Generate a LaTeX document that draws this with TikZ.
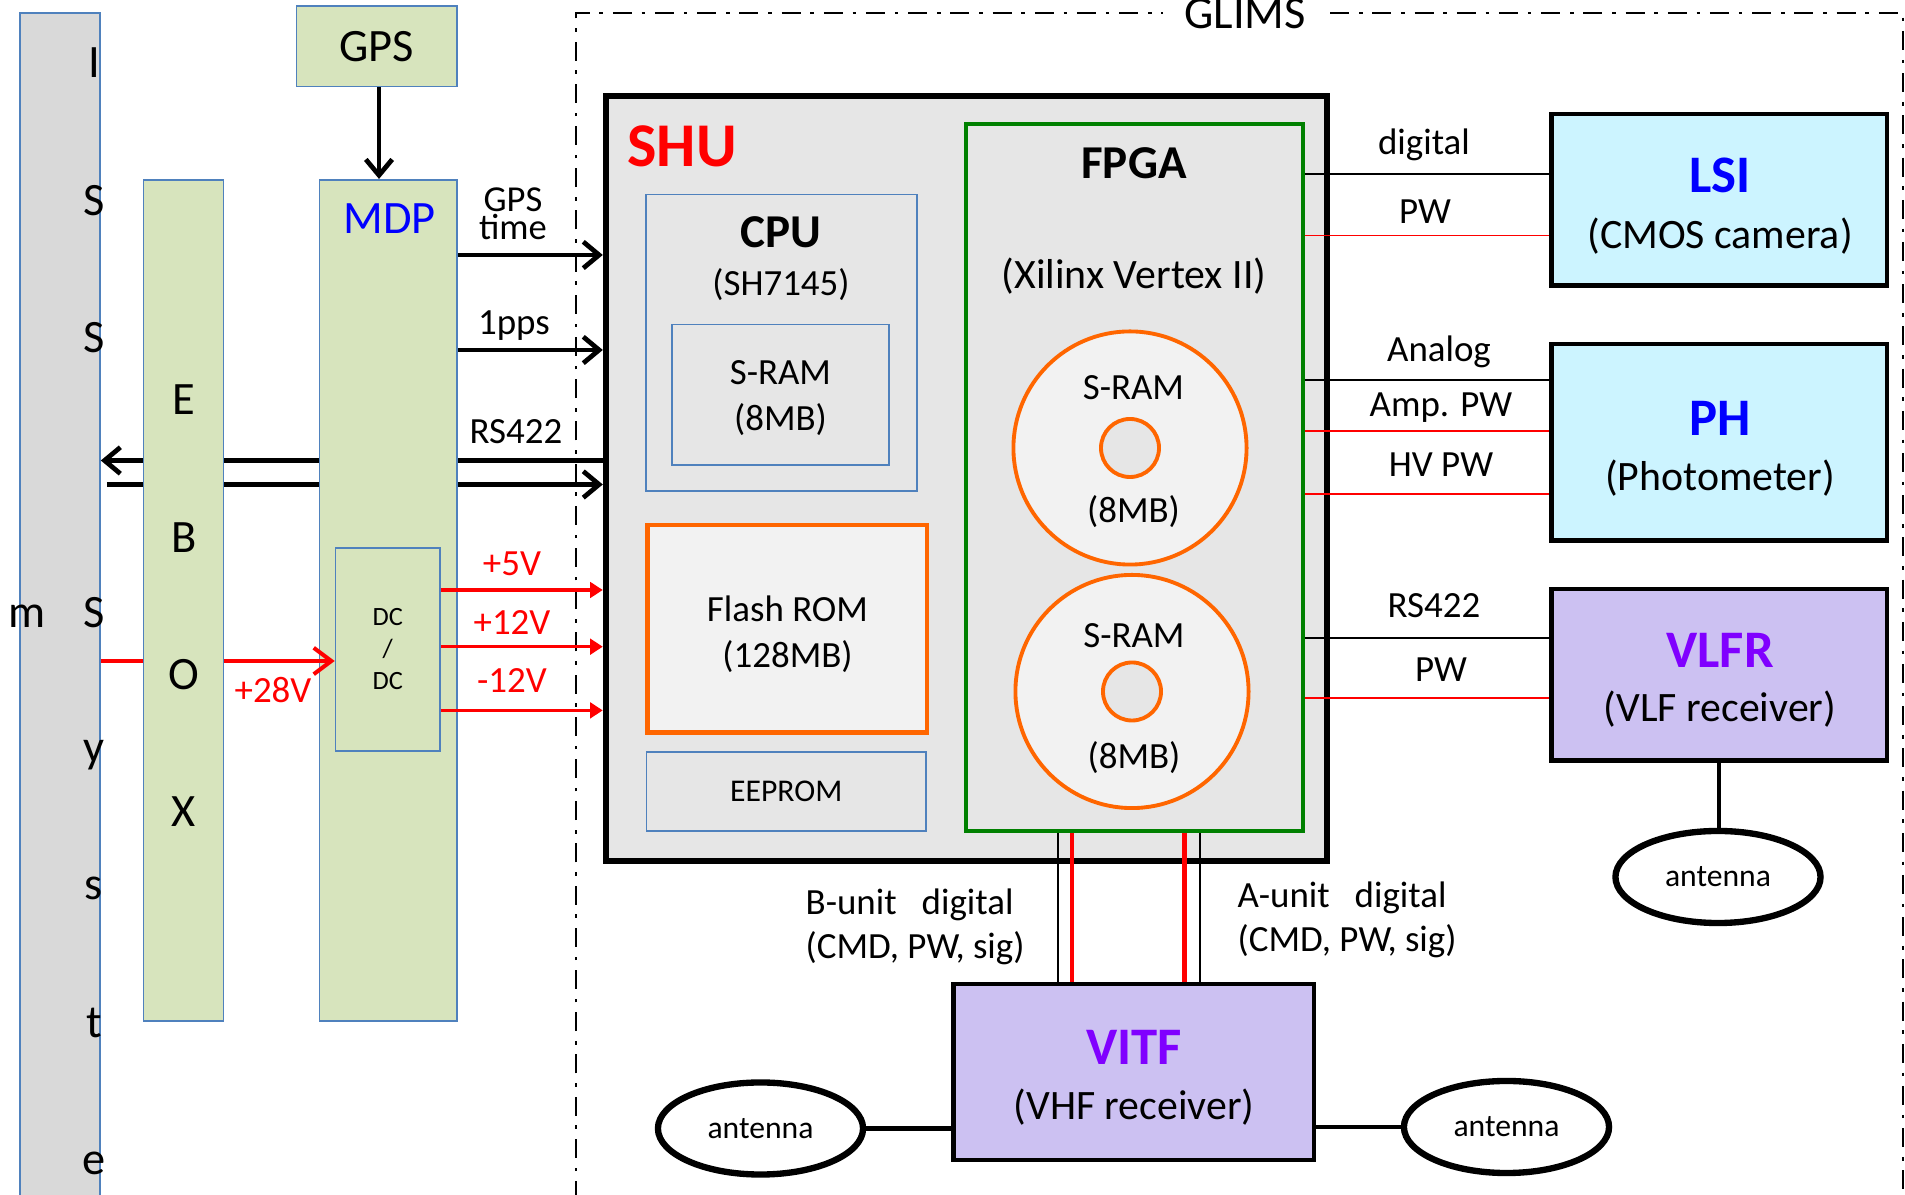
\documentclass[tikz,border=0pt]{standalone}
\usepackage{fontspec}
\setmainfont{Carlito}
\usetikzlibrary{arrows.meta,shapes.geometric}

\definecolor{boxblue}{RGB}{79,129,189}
\definecolor{issgray}{RGB}{217,217,217}
\definecolor{boxgreen}{RGB}{215,228,189}
\definecolor{shugray}{RGB}{230,230,230}
\definecolor{memfill}{RGB}{242,242,242}
\definecolor{memorange}{RGB}{255,102,0}
\definecolor{fpgagreen}{RGB}{0,128,0}
\definecolor{sensorcyan}{RGB}{204,244,255}
\definecolor{rxviolet}{RGB}{204,193,242}
\definecolor{titleblue}{RGB}{0,0,255}
\definecolor{titleviolet}{RGB}{128,0,255}

\newcommand{\fbig}{\fontsize{13.2pt}{15.8pt}\selectfont}
\newcommand{\fsub}{\fontsize{11.9pt}{14pt}\selectfont}
\newcommand{\fsig}{\fontsize{10.5pt}{12.5pt}\selectfont}
\newcommand{\fmem}{\fontsize{10.5pt}{13pt}\selectfont}
\newcommand{\ftight}{\fontsize{10.4pt}{8.1pt}\selectfont}
\newcommand{\fsmall}{\fontsize{9pt}{11pt}\selectfont}
\newcommand{\fdc}{\fontsize{7.5pt}{9.1pt}\selectfont}
\newcommand{\fhead}{\fontsize{13.4pt}{16pt}\selectfont\bfseries}
\newcommand{\ftitle}{\fontsize{15pt}{18pt}\selectfont\bfseries}
\newcommand{\fshu}{\fontsize{17.7pt}{21pt}\selectfont\bfseries}

\begin{document}
\begin{tikzpicture}[x=0.01cm, y=-0.01cm,
    blk/.style={draw=boxblue, line width=0.45pt, inner sep=0pt},
    grn/.style={blk, fill=boxgreen},
    periph/.style={draw=black, line width=1.2pt, inner sep=0pt},
    ant/.style={ellipse, draw=black, line width=1.8pt, fill=white, inner sep=0pt,
      minimum width=2.05cm, minimum height=0.92cm, font=\fsmall},
    disk/.style={circle, draw=memorange, line width=1.1pt, fill=memfill,
      minimum size=2.33cm, inner sep=0pt},
    hole/.style={circle, draw=memorange, line width=1.1pt, fill=shugray,
      minimum size=0.58cm, inner sep=0pt},
    bus/.style={line width=1.35pt, -{Straight Barb[length=4.5pt,width=7.5pt]}},
    pwr/.style={red, line width=0.9pt, -{Triangle[length=3.6pt,width=4.4pt]}},
    wire/.style={line width=0.55pt},
    pwire/.style={wire, red},
  ]
\useasboundingbox (0,0) rectangle (1905,1195);

% GLIMS frame
\draw[line width=0.5pt, dash pattern=on 5.4pt off 2.8pt on 1pt off 2.8pt]
  (576,1200) -- (576,13) -- (1903,13) -- (1903,1200);
\node[fill=white, font=\fbig, inner xsep=6pt, inner ysep=1pt] (glims) at (1245,14) {GLIMS};

% ISS side
\node[blk, fill=issgray, minimum width=0.8cm, minimum height=11.9cm, anchor=north] (iss) at (60,12) {};
\foreach \ch/\yb [count=\i] in {I/78,S/216,S/353,S/628,y/763,s/900,t/1038,e/1175}
  \node[font=\fbig, anchor=base] (iss\i) at (94,\yb) {\ch};
\node[font=\fbig, anchor=base] (issm) at (27,628) {m};

\node[grn, minimum width=1.605cm, minimum height=0.803cm, font=\fbig] (gps) at (376.75,46.2) {GPS};

% SHU
\node[draw, line width=1.7pt, fill=shugray, minimum width=7.21cm, minimum height=7.65cm, inner sep=0pt] (shu) at (966.5,478.5) {};
\node[font=\fshu, text=red] (shulabel) at (682,146) {SHU};

\node[blk, fill=shugray, minimum width=2.71cm, minimum height=2.965cm] (cpu) at (781.5,342.75) {};
\node[font=\fhead] (cputitle) at (781,232) {CPU};
\node[font=\fsig] (cpusub) at (781,285) {(SH7145)};
\node[blk, fill=shugray, minimum width=2.17cm, minimum height=1.405cm] (cpuram) at (780.5,394.75) {};
\node[font=\fmem, align=center] (cpuramtext) at (780.5,398) {S-RAM\\(8MB)};

\node[draw=memorange, line width=1.3pt, fill=memfill, minimum width=2.795cm, minimum height=2.075cm,
  inner sep=0pt] (flash) at (787.25,628.75) {};
\node[font=\fmem, align=center] (flashtext) at (787.5,634) {Flash ROM\\(128MB)};
\node[blk, fill=shugray, minimum width=2.795cm, minimum height=0.79cm, font=\fsmall] (eeprom) at (786.25,791.5) {EEPROM};

\node[draw=fpgagreen, line width=1.1pt, fill=shugray, minimum width=3.365cm, minimum height=7.07cm, inner sep=0pt] (fpga) at (1134.25,477.5) {};
\node[font=\fhead] (fpgatitle) at (1134,163) {FPGA};
\node[font=\fsub] (fpgasub) at (1134,276) {(Xilinx Vertex II)};

\node[disk] (disk1) at (1130,448) {};
\node[hole] (hole1) at (disk1) {};
\node[font=\fsig] (disk1top) at (1133.5,388) {S-RAM};
\node[font=\fsig] (disk1bot) at (1133.5,512) {(8MB)};
\node[disk] (disk2) at (1132,691.5) {};
\node[hole] (hole2) at (disk2) {};
\node[font=\fsig] (disk2top) at (1134,636) {S-RAM};
\node[font=\fsig] (disk2bot) at (1134,758) {(8MB)};

% RS422 pair runs under EBOX and MDP
\draw[bus] (shu.west |- 0,460.5) -- (iss.east |- 0,460.5);
\draw[bus, shorten <=1.7pt] (iss.east |- 0,484.5) -- (shu.west |- 0,484.5);

\node[grn, minimum width=1.375cm, minimum height=8.405cm] (mdp) at (388.25,600.25) {};
\node[font=\fbig, text=titleblue] (mdplabel) at (389.5,219) {MDP};
\node[grn, minimum width=1.045cm, minimum height=2.03cm, font=\fdc, align=center] (dc) at (387.75,649.5) {DC\\/\\DC};

% +28V runs under EBOX, over MDP
\draw[red, line width=1.15pt, -{Straight Barb[length=5pt,width=7.5pt]}] (iss.east |- 0,661) -- (dc.west |- 0,661);

\node[grn, minimum width=0.8cm, minimum height=8.405cm] (ebox) at (183.5,600.25) {};
\foreach \ch/\yb [count=\i] in {E/415,B/553,O/690,X/827}
  \node[font=\fbig, anchor=base] (ebox\i) at (184,\yb) {\ch};

\draw[bus] (gps.south -| 379,0) -- (mdp.north -| 379,0);
\draw[bus] (mdp.east |- 0,255) -- (shu.west |- 0,255);
\draw[bus] (mdp.east |- 0,350) -- (shu.west |- 0,350);
\node[font=\ftight, align=center] (gpstime) at (513,214) {GPS\\time};
\node[font=\fsig, anchor=base] (pps) at (514,335) {1pps};
\node[font=\fsig, anchor=base] (rsleft) at (516,444) {RS422};

\foreach \yy in {590,646.7,710.4}
  \draw[pwr] (dc.east |- 0,\yy) -- (shu.west |- 0,\yy);
\node[font=\fsig, text=red, anchor=base] (v5) at (512,576) {+5V};
\node[font=\fsig, text=red, anchor=base] (v12) at (512,634.3) {+12V};
\node[font=\fsig, text=red, anchor=base] (vm12) at (512,693) {-12V};
\node[font=\fsig, text=red, anchor=base] (v28) at (273,703) {+28V};

% instruments
\node[periph, fill=sensorcyan, minimum width=3.35cm, minimum height=1.715cm] (lsi) at (1719,199.75) {};
\node[font=\ftitle, text=titleblue] (lsititle) at (1720,175) {LSI};
\node[font=\fsub] (lsisub) at (1720,235.7) {(CMOS camera)};

\node[periph, fill=sensorcyan, minimum width=3.35cm, minimum height=1.965cm] (ph) at (1719,442.25) {};
\node[font=\ftitle, text=titleblue] (phtitle) at (1720,418.4) {PH};
\node[font=\fsub] (phsub) at (1720,477.7) {(Photometer)};

\node[periph, fill=rxviolet, minimum width=3.35cm, minimum height=1.715cm] (vlfr) at (1719,674.75) {};
\node[font=\ftitle, text=titleviolet] (vlfrtitle) at (1720,650.6) {VLFR};
\node[font=\fsub] (vlfrsub) at (1720,709.6) {(VLF receiver)};

\node[periph, fill=rxviolet, minimum width=3.6cm, minimum height=1.76cm] (vitf) at (1133.5,1072) {};
\node[font=\ftitle, text=titleviolet] (vitftitle) at (1134,1047) {VITF};
\node[font=\fsub] (vitfsub) at (1134,1107) {(VHF receiver)};

\node[ant] (antv) at (1718,877) {antenna};
\node[ant] (antl) at (760.5,1128.5) {antenna};
\node[ant] (antr) at (1506.5,1127) {antenna};

\draw[wire] (fpga.east |- 0,174) -- (lsi.west |- 0,174);
\draw[pwire] (fpga.east |- 0,235.5) -- (lsi.west |- 0,235.5);
\draw[wire] (fpga.east |- 0,380) -- (ph.west |- 0,380);
\draw[pwire] (fpga.east |- 0,431) -- (ph.west |- 0,431);
\draw[pwire] (fpga.east |- 0,494) -- (ph.west |- 0,494);
\draw[wire] (fpga.east |- 0,638) -- (vlfr.west |- 0,638);
\draw[pwire] (fpga.east |- 0,698) -- (vlfr.west |- 0,698);
\node[font=\fsig, anchor=base] (lsidig) at (1424,155) {digital};
\node[font=\fsig, anchor=base] (lsipw) at (1425,224) {PW};
\node[font=\fsig, anchor=base] (phana) at (1439,362) {Analog};
\node[font=\fsig, anchor=base] (phamp) at (1441,416.7) {Amp. PW};
\node[font=\fsig, anchor=base] (phhv) at (1441,477) {HV PW};
\node[font=\fsig, anchor=base] (vlfrrs) at (1434,618) {RS422};
\node[font=\fsig, anchor=base] (vlfrpw) at (1441,682) {PW};

\draw[line width=0.5pt] (fpga.south -| 1058,0) -- (vitf.north -| 1058,0);
\draw[red, line width=1.2pt] (fpga.south -| 1072,0) -- (vitf.north -| 1072,0);
\draw[red, line width=1.2pt] (fpga.south -| 1184.5,0) -- (vitf.north -| 1184.5,0);
\draw[line width=0.5pt] (fpga.south -| 1200,0) -- (vitf.north -| 1200,0);
\node[font=\fsig, align=left, anchor=west, inner xsep=0pt] (bunit) at (805,927) {B-unit~~~digital\\(CMD, PW, sig)};
\node[font=\fsig, align=left, anchor=west, inner xsep=0pt] (aunit) at (1237,920) {A-unit~~~digital\\(CMD, PW, sig)};

\draw[line width=1.3pt] (vlfr.south) -- (vlfr.south |- antv.north);
\draw[line width=1.3pt] (antl.east) -- (antl.east -| vitf.west);
\draw[line width=1.3pt] (vitf.east |- antr.west) -- (antr.west);
\end{tikzpicture}
\end{document}
